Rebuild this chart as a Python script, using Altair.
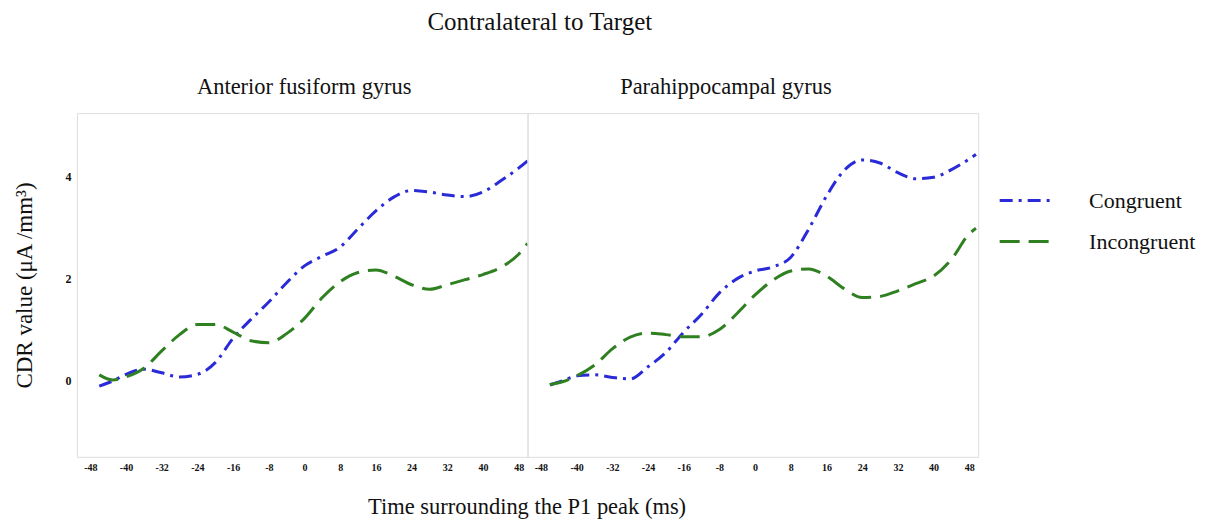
import altair as alt
import pandas as pd

FONT = "Liberation Serif"

series_names = ["Congruent", "Incongruent"]
panel_names = ["Anterior fusiform gyrus", "Parahippocampal gyrus"]
x_ticks = [-48, -40, -32, -24, -16, -8, 0, 8, 16, 24, 32, 40, 48]

left_time = [-46, -43, -40, -36, -32, -28, -24, -20, -16, -12, -8, -4, 0, 4, 8, 12, 16, 20, 24, 28, 32, 36, 40, 44, 48, 50]
left_congruent = [-0.11, -0.01, 0.12, 0.22, 0.15, 0.07, 0.12, 0.35, 0.83, 1.2, 1.54, 1.92, 2.25, 2.44, 2.62, 2.98, 3.33, 3.6, 3.73, 3.7, 3.64, 3.61, 3.7, 3.92, 4.17, 4.31]
left_incongruent = [0.11, 0.01, 0.07, 0.24, 0.58, 0.9, 1.1, 1.1, 0.95, 0.78, 0.74, 0.92, 1.22, 1.63, 1.94, 2.12, 2.17, 2.05, 1.88, 1.79, 1.88, 1.98, 2.08, 2.22, 2.48, 2.69]

right_time = [-46, -43, -40, -36, -32, -28, -24, -20, -16, -12, -8, -4, 0, 4, 8, 12, 16, 20, 24, 28, 32, 36, 40, 44, 48, 49.5]
right_congruent = [-0.09, 0.0, 0.09, 0.11, 0.06, 0.03, 0.27, 0.55, 0.95, 1.3, 1.72, 2.0, 2.15, 2.23, 2.42, 2.97, 3.62, 4.13, 4.33, 4.27, 4.08, 3.96, 3.99, 4.14, 4.35, 4.44]
right_incongruent = [-0.08, -0.02, 0.09, 0.3, 0.62, 0.85, 0.93, 0.9, 0.86, 0.86, 1.0, 1.32, 1.68, 1.97, 2.15, 2.19, 2.05, 1.8, 1.63, 1.65, 1.76, 1.9, 2.05, 2.38, 2.88, 2.99]


def frame(times, cong, incong):
    rows = []
    for t, v in zip(times, cong):
        rows.append({"time": t, "value": v, "condition": "Congruent"})
    for t, v in zip(times, incong):
        rows.append({"time": t, "value": v, "condition": "Incongruent"})
    return pd.DataFrame(rows)


color_scale = alt.Scale(domain=series_names, range=["#2a2ad8", "#2f8020"])
dash_scale = alt.Scale(domain=series_names, range=[[13, 6, 3, 6], [20, 9]])


def panel(df, title, show_y, title_dx):
    y_axis = alt.Axis(
        title="CDR value (μA /mm³)", values=[0, 2, 4], labelExpr="datum.value",
        labelFont=FONT, labelFontSize=12, labelFontWeight="bold", labelColor="#111",
        titleFont=FONT, titleFontSize=23, titleFontWeight="normal", titleColor="#111",
        titlePadding=28, labelPadding=6, ticks=False, domain=False, grid=False,
    ) if show_y else alt.Axis(title=None, labels=False, ticks=False, domain=False, grid=False)
    x_axis_kwargs = dict(
        values=x_ticks, labelExpr="datum.value", labelFont=FONT, labelFontSize=10,
        labelFontWeight="bold", labelColor="#111", ticks=False, domain=False, grid=False,
        labelPadding=6,
    )
    if show_y:
        x_axis = alt.Axis(
            title="Time surrounding the P1 peak (ms)", titleFont=FONT, titleFontSize=22.5,
            titleFontWeight="normal", titleColor="#111", titleX=450, titleAnchor="middle",
            titleAlign="center", titlePadding=23, **x_axis_kwargs,
        )
    else:
        x_axis = alt.Axis(title=None, **x_axis_kwargs)
    return (
        alt.Chart(df)
        .mark_line(strokeWidth=3, interpolate="monotone", clip=True)
        .encode(
            x=alt.X("time:Q", scale=alt.Scale(domain=[-51, 50], nice=False, zero=False), axis=x_axis),
            y=alt.Y("value:Q", scale=alt.Scale(domain=[-1.5, 5.25], nice=False, zero=False), axis=y_axis),
            color=alt.Color("condition:N", scale=color_scale, title=None,
                            legend=alt.Legend(symbolType="stroke", symbolSize=2500, symbolStrokeWidth=3,
                                              labelFont=FONT, labelFontSize=22, labelColor="#111",
                                              rowPadding=3, labelOffset=38, padding=0,
                                              orient="none", legendX=922, legendY=61)),
            strokeDash=alt.StrokeDash("condition:N", scale=dash_scale, title=None, legend=None),
        )
        .properties(
            width=451, height=344,
            title=alt.TitleParams(title, font=FONT, fontSize=22.5, fontWeight="normal", color="#111",
                                  offset=15, dx=title_dx),
        )
    )


left = panel(frame(left_time, left_congruent, left_incongruent), panel_names[0], True, 2)
right = panel(frame(right_time, right_congruent, right_incongruent), panel_names[1], False, -27)

chart = (
    alt.hconcat(left, right, spacing=0, bounds="flush")
    .properties(
        title=alt.TitleParams("Contralateral to Target", font=FONT, fontSize=25,
                              fontWeight="normal", color="#111", offset=40, anchor="middle", dx=-65),
        padding={"top": 2, "left": 5, "right": 5, "bottom": 5},
    )
    .configure_view(stroke="#c4c4c4", strokeWidth=1.5)
    .configure(background="white")
)

chart.save("out.html", embed_options={"renderer": "svg", "actions": False})
